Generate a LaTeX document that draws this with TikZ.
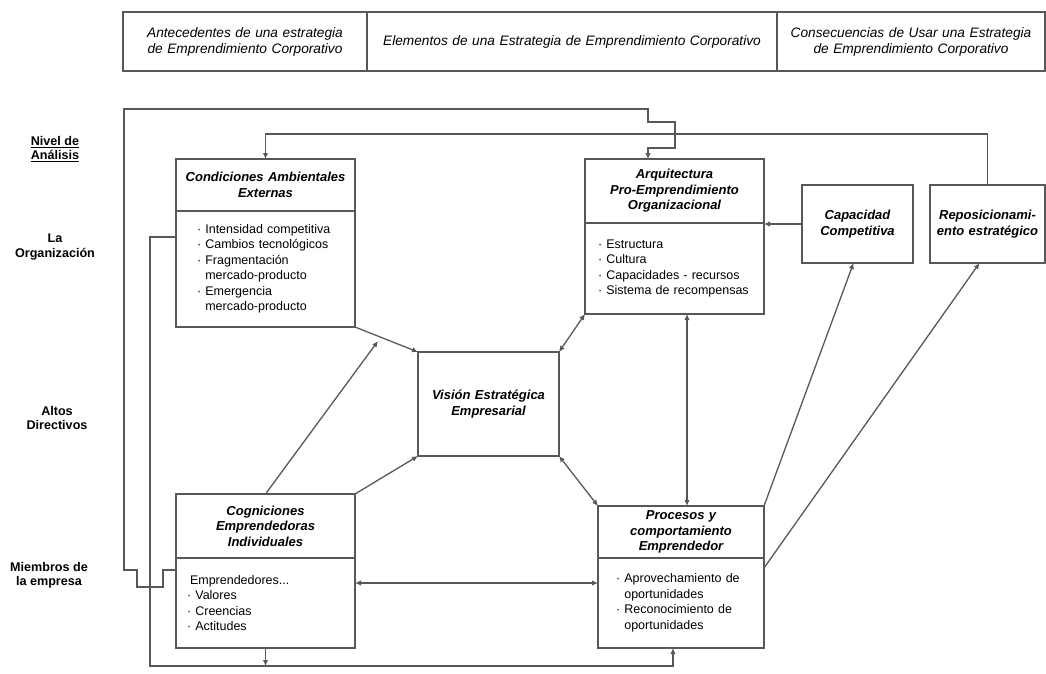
\documentclass[tikz,border=0pt]{standalone}
\usepackage{fontspec}
\setmainfont{Liberation Sans}
\definecolor{linegray}{RGB}{88,88,88}
\usetikzlibrary{arrows.meta, positioning, calc}

\begin{document}
\begin{tikzpicture}[
    x=1pt, y=-1pt,
    box/.style={
        rectangle, draw=linegray, fill=white, line width=1.4pt,
        inner sep=0pt, outer sep=0pt, align=center
    },
    headbox/.style={
        box, minimum height=59pt, font=\fontsize{13.7}{16}\selectfont\itshape
    },
    boxtitle/.style={
        box, font=\fontsize{13}{15.5}\selectfont\bfseries\itshape
    },
    boxbody/.style={
        box, align=left, font=\fontsize{12.5}{15.5}\selectfont
    },
    levellabel/.style={
        font=\fontsize{12.6}{14.5}\selectfont\bfseries, align=center
    },
    link/.style={
        -{Latex[length=6pt,width=5.5pt]}, line width=1.3pt, draw=linegray
    },
    dlink/.style={
        {Latex[length=6pt,width=5.5pt]}-{Latex[length=6pt,width=5.5pt]}, line width=1.3pt, draw=linegray
    }
]
\useasboundingbox (0,0) rectangle (1046,673);

% Header (top row)
\node[headbox, minimum width=244pt, text width=236pt] (hdA) at (245,41.5)
    {Antecedentes de una estrategia\\de Emprendimiento Corporativo};
\node[headbox, minimum width=410pt, text width=402pt, right=0pt of hdA] (hdB)
    {Elementos de una Estrategia de Emprendimiento Corporativo};
\node[headbox, minimum width=268pt, text width=262pt, right=0pt of hdB] (hdC)
    {Consecuencias de Usar una Estrategia\\de Emprendimiento Corporativo};

% Levels of analysis (left column)
\node[levellabel] (lvl) at (55,149) {\underline{Nivel de}\\\underline{Análisis}};
\node[levellabel] (org) at (55,247) {La\\Organización};
\node[levellabel] (dir) at (57,418) {Altos\\Directivos};
\node[levellabel] (mem) at (49,575) {Miembros de\\la empresa};

% Condiciones Ambientales Externas (top left)
\node[boxtitle, minimum width=179pt, minimum height=52pt, text width=171pt] (condT) at (265.5,185)
    {Condiciones Ambientales\\Externas};
\node[boxbody, minimum width=179pt, minimum height=116pt, text width=137pt, inner xsep=21pt, below=0pt of condT] (condB)
    {· Intensidad competitiva\\
     · Cambios tecnológicos\\
     · Fragmentación\\
     \phantom{· }mercado-producto\\
     · Emergencia\\
     \phantom{· }mercado-producto};

% Arquitectura Pro-Emprendimiento (top middle)
\node[boxtitle, minimum width=179pt, minimum height=64pt, text width=171pt] (arqT) at (674.5,191)
    {Arquitectura\\Pro-Emprendimiento\\Organizacional};
\node[boxbody, minimum width=179pt, minimum height=91pt, text width=153pt, inner xsep=13pt, below=0pt of arqT] (arqB)
    {· Estructura\\
     · Cultura\\
     · Capacidades - recursos\\
     · Sistema de recompensas};

% Consequences (top right)
\node[boxtitle, minimum width=111pt, minimum height=78pt, text width=107pt] (cap) at (857.5,224)
    {Capacidad\\Competitiva};
\node[boxtitle, minimum width=115pt, minimum height=78pt, text width=113pt] (repo) at (987.5,224)
    {Reposicionami-\\ento estratégico};

% Vision (centre)
\node[boxtitle, minimum width=141pt, minimum height=104pt, text width=135pt] (vis) at (488.5,404)
    {Visión Estratégica\\Empresarial};

% Cogniciones Emprendedoras Individuales (bottom left)
\node[boxtitle, minimum width=179pt, minimum height=64pt, text width=171pt] (cogT) at (265.5,526)
    {Cogniciones\\Emprendedoras\\Individuales};
\node[boxbody, minimum width=179pt, minimum height=90pt, text width=157pt, inner xsep=11pt, below=0pt of cogT] (cogB)
    {\hspace{3pt}Emprendedores...\\
     · Valores\\
     · Creencias\\
     · Actitudes};

% Procesos y comportamiento (bottom middle)
\node[boxtitle, minimum width=166pt, minimum height=52pt, text width=160pt] (procT) at (681,532)
    {Procesos y\\comportamiento\\Emprendedor};
\node[boxbody, minimum width=166pt, minimum height=90pt, text width=130pt, inner xsep=18pt, below=0pt of procT] (procB)
    {· Aprovechamiento de\\
     \phantom{· }oportunidades\\
     · Reconocimiento de\\
     \phantom{· }oportunidades};

% Helper points for the feedback loops
\coordinate (loopA) at (648,109);
\coordinate (loopB) at (0,134);
\coordinate (loopC) at (150,666);
\coordinate (mod) at (378,341);

% Relations
\draw[link] (condB.south east) -- (vis.north west);
\draw[link] (cogT.north) -- (mod);
\draw[link] (cogT.north east) -- (vis.south west);
\draw[dlink] (vis.north east) -- (arqB.south west);
\draw[dlink] (vis.south east) -- (procT.north west);
\draw[dlink] ([xshift=-77pt]arqB.south east) -- ([xshift=-77pt]procT.north east);
\draw[dlink] ([yshift=-25pt]cogB.north east) -- ([yshift=-25pt]procB.north west);
\draw[link] (cap.west) -- (cap.west -| arqB.east);
\draw[link] (procT.north east) -- ([xshift=-4pt]cap.south);
\draw[link] ([yshift=-10pt]procB.north east) -- ([xshift=-8pt]repo.south);

% Feedback loops
\draw[link] ([yshift=-12pt]cogB.north west) -- ++(-13,0) -- ++(0,17) -- ++(-26,0) -- ++(0,-17) -- ++(-13,0)
    |- (loopA) -- ++(0,13) -- ++(27,0) -- ++(0,26) -| ([xshift=-26.5pt]arqT.north);
\draw[link] (repo.north) -- (repo.north |- loopB) -| (condT.north);
\draw[link] ([yshift=-26pt]condB.north west) -| (loopC) -| ([xshift=-8pt]procB.south);
\draw[link] (cogB.south) -- (cogB.south |- loopC);

\end{tikzpicture}
\end{document}
